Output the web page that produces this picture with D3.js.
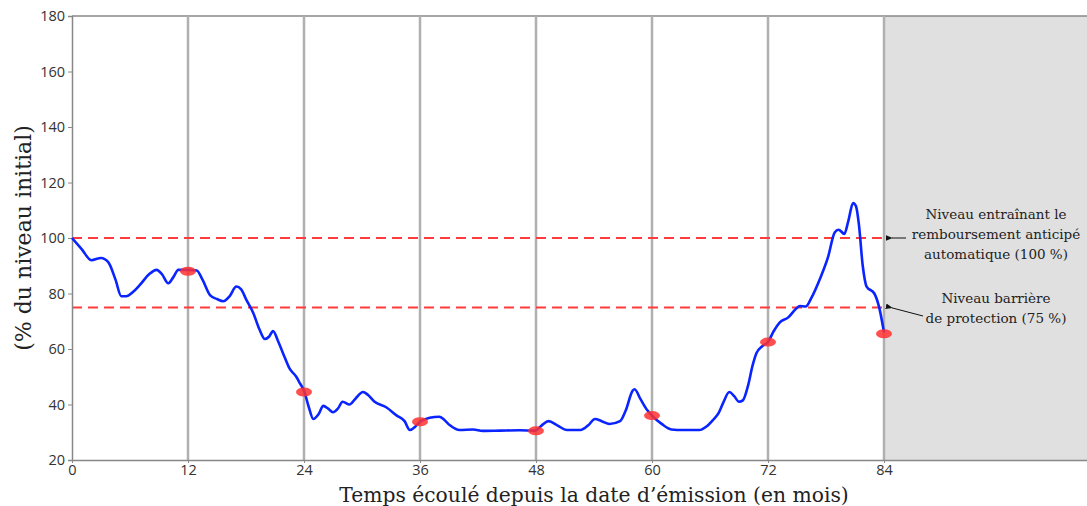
<!DOCTYPE html>
<html>
<head>
<meta charset="utf-8">
<script src="https://cdn.jsdelivr.net/npm/d3@7"></script>
<style>
  body { margin: 0; background: #fff; }
  .tick text { font-family: 'Open Sans', sans-serif; font-size: 14.5px; fill: #333; }
</style>
</head>
<body>
<div id="chart"></div>
<script>
var svgWidth = 1087;
var svgHeight = 506;

var margin = { top: 16, right: 0, bottom: 46, left: 72 };
var width = svgWidth - margin.left - margin.right;
var height = svgHeight - margin.top - margin.bottom;

// underlying level path (months since issue, % of initial level)
var months = [0, 1, 2, 3, 3.75, 4.5, 5.1, 5.6, 6.3, 7, 8, 8.75, 9.3, 9.96, 10.5, 11, 12, 12.9, 13.5, 14.3,
  15, 15.65, 16.3, 17, 17.5, 18, 18.75, 19.4, 19.96, 20.4, 20.8, 21.3, 22, 22.5, 23.2, 23.6, 24, 24.5, 24.96,
  25.5, 26, 26.5, 27, 27.5, 28, 28.7, 29.3, 30.1, 30.6, 31.3, 32.5, 33.6, 34.4, 34.95, 35.5, 36, 37, 38, 38.5,
  39.1, 40.1, 41.5, 42.5, 44.3, 46.3, 47.9, 48.6, 49.3, 50.2, 51.2, 52.6, 53.4, 54.1, 54.8, 55.6, 56.7, 57.3,
  58, 58.2, 58.8, 59.5, 60, 61, 62, 63.2, 64.9, 65.6, 66.3, 66.9, 67.35, 68, 68.5, 69, 69.4, 69.95, 70.4, 70.8,
  71.4, 72, 72.6, 73.2, 74.1, 74.9, 75.3, 75.9, 76.5, 77.4, 78.2, 78.9, 79.3, 79.9, 80.3, 80.8, 81.1, 81.4,
  81.8, 82.2, 83, 83.5, 84];
var levels = [100, 96, 92, 92.8, 91.3, 85, 79, 79, 80.5, 83, 87, 88.5, 87, 83.7, 86, 88.5, 88.5, 88.3, 85, 79.3,
  78, 77.2, 79, 82.5, 81.5, 78, 73, 67, 63.6, 64.5, 66.5, 63, 57, 53, 50, 47.5, 45, 39, 34.8,
  36.5, 39.5, 38.5, 37.2, 38.5, 41, 40, 42, 44.5, 43.5, 41, 39, 36, 34, 30.8, 32, 33.8, 35.2, 35.6, 34.5,
  32.5, 30.8, 31, 30.5, 30.6, 30.7, 30.6, 32.5, 34, 32.5, 30.8, 30.8, 32.5, 34.8, 34, 33, 34, 38,
  45, 45.5, 42, 38, 36, 33, 31, 30.8, 30.8, 32, 34.4, 37, 40.5, 44.5, 43, 41, 41.5, 47, 54, 58.5,
  61, 62.5, 66.5, 69.5, 71.4, 74.5, 75.5, 75.3, 78.5, 85.5, 93, 102, 103, 101.5, 106, 112.6, 111.5, 105,
  90, 82.5, 80, 75, 66];

// observation dates and observed levels
var obsMonths = [12, 24, 36, 48, 60, 72, 84];
var obsLevels = [88, 44.5, 33.8, 30.5, 36, 62.5, 65.5];

// thresholds
var autocallLevel = 100;
var barrierLevel = 75;

var yTicks = [20, 40, 60, 80, 100, 120, 140, 160, 180];
var xTicks = [0, 12, 24, 36, 48, 60, 72, 84];

var data = months.map(function(m, i) { return { m: m, v: levels[i] }; });

var svg = d3.select('#chart')
  .append('svg')
  .attr('width', svgWidth)
  .attr('height', svgHeight);

var defs = svg.append('defs');
defs.append('marker')
  .attr('id', 'arrow')
  .attr('viewBox', '0 0 10 10')
  .attr('refX', 1)
  .attr('refY', 5)
  .attr('markerWidth', 7)
  .attr('markerHeight', 7)
  .attr('orient', 'auto')
  .append('path')
  .attr('d', 'M10,1 L0,5 L10,9 Z')
  .attr('fill', '#111');

var chartGroup = svg.append('g')
  .attr('transform', `translate(${margin.left}, ${margin.top})`);

var x = d3.scaleLinear().domain([0, 105]).range([0, width]);
var y = d3.scaleLinear().domain([20, 180]).range([height, 0]);

// shaded region after maturity
chartGroup.append('rect')
  .attr('x', x(84))
  .attr('y', 0)
  .attr('width', x(105) - x(84))
  .attr('height', height)
  .attr('fill', '#e0e0e0');

// top border
chartGroup.append('line')
  .attr('x1', 0).attr('x2', width)
  .attr('y1', 0).attr('y2', 0)
  .attr('stroke', '#888')
  .attr('stroke-width', 1.5);

// vertical lines at observation dates
chartGroup.selectAll('.obs-line')
  .data(obsMonths)
  .enter()
  .append('line')
  .attr('class', 'obs-line')
  .attr('x1', d => x(d)).attr('x2', d => x(d))
  .attr('y1', 0).attr('y2', height)
  .attr('stroke', '#b0b0b0')
  .attr('stroke-width', 2.5);

// threshold lines
chartGroup.selectAll('.threshold')
  .data([autocallLevel, barrierLevel])
  .enter()
  .append('line')
  .attr('class', 'threshold')
  .attr('x1', 0).attr('x2', x(84))
  .attr('y1', d => y(d)).attr('y2', d => y(d))
  .attr('stroke', '#ff3b3b')
  .attr('stroke-width', 2)
  .attr('stroke-dasharray', '10,6');

// axes
var leftAxis = d3.axisLeft(y).tickValues(yTicks).tickSize(4).tickPadding(3);
var yAxis = chartGroup.append('g').call(leftAxis);
yAxis.select('.domain').attr('stroke', '#888').attr('stroke-width', 1.5);
yAxis.selectAll('.tick line').attr('stroke', '#888');

var bottomAxis = d3.axisBottom(x).tickValues(xTicks).tickSize(3).tickPadding(2).tickSizeOuter(0);
var xAxis = chartGroup.append('g')
  .attr('transform', `translate(0, ${height})`)
  .call(bottomAxis);
xAxis.select('.domain').attr('stroke', '#888').attr('stroke-width', 1.5);
xAxis.selectAll('.tick line').attr('stroke', '#888');

// level path
var line = d3.line()
  .x(d => x(d.m))
  .y(d => y(d.v))
  .curve(d3.curveMonotoneX);

chartGroup.append('path')
  .datum(data)
  .attr('fill', 'none')
  .attr('stroke', '#0a24ff')
  .attr('stroke-width', 2.6)
  .attr('stroke-linejoin', 'round')
  .attr('d', line);

// observation markers
chartGroup.selectAll('.obs')
  .data(obsMonths)
  .enter()
  .append('ellipse')
  .attr('class', 'obs')
  .attr('cx', d => x(d))
  .attr('cy', (d, i) => y(obsLevels[i]))
  .attr('rx', 8)
  .attr('ry', 4.5)
  .attr('fill', '#ff3030')
  .attr('opacity', 0.85);

// annotations
var noteFont = "'DejaVu Serif', serif";
var noteX = 996;
var note1 = ['Niveau entraînant le', 'remboursement anticipé', 'automatique (100 %)'];
var note2 = ['Niveau barrière', 'de protection (75 %)'];

svg.selectAll('.note1')
  .data(note1)
  .enter()
  .append('text')
  .attr('x', noteX)
  .attr('y', (d, i) => 219 + i * 20)
  .attr('text-anchor', 'middle')
  .attr('font-family', noteFont)
  .attr('font-size', '13.5px')
  .attr('fill', '#222')
  .text(d => d);

svg.selectAll('.note2')
  .data(note2)
  .enter()
  .append('text')
  .attr('x', noteX)
  .attr('y', (d, i) => 303 + i * 20)
  .attr('text-anchor', 'middle')
  .attr('font-family', noteFont)
  .attr('font-size', '13.5px')
  .attr('fill', '#222')
  .text(d => d);

svg.append('line')
  .attr('x1', 906).attr('y1', margin.top + y(autocallLevel))
  .attr('x2', 892).attr('y2', margin.top + y(autocallLevel))
  .attr('stroke', '#111')
  .attr('stroke-width', 1)
  .attr('marker-end', 'url(#arrow)');

svg.append('line')
  .attr('x1', 923).attr('y1', 316)
  .attr('x2', 892).attr('y2', margin.top + y(barrierLevel) + 0.5)
  .attr('stroke', '#111')
  .attr('stroke-width', 1)
  .attr('marker-end', 'url(#arrow)');

// axis titles
svg.append('text')
  .attr('transform', `translate(31, ${margin.top + height / 2}) rotate(-90)`)
  .attr('text-anchor', 'middle')
  .attr('font-family', noteFont)
  .attr('font-size', '22px')
  .attr('fill', '#222')
  .text('(% du niveau initial)');

svg.append('text')
  .attr('x', 594)
  .attr('y', 502)
  .attr('text-anchor', 'middle')
  .attr('font-family', noteFont)
  .attr('font-size', '20.3px')
  .attr('fill', '#222')
  .text('Temps écoulé depuis la date d’émission (en mois)');
</script>
</body>
</html>
